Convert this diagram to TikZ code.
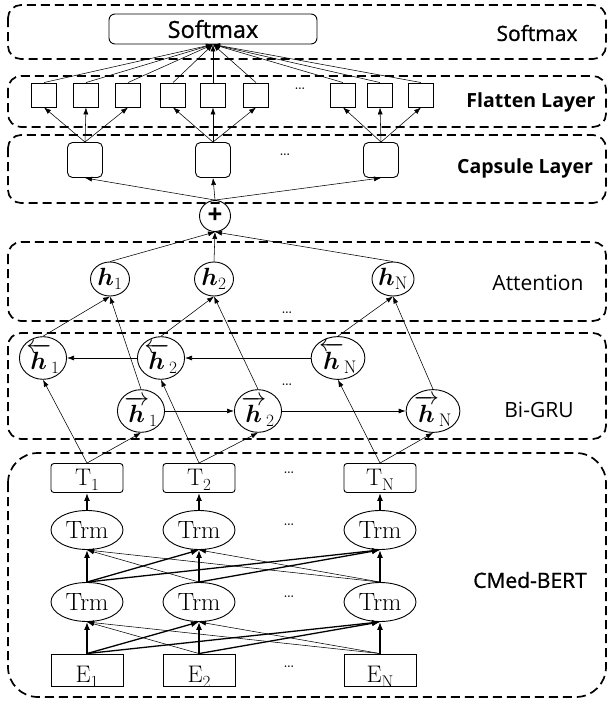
\documentclass[tikz,border=0pt]{standalone}
\usepackage{fontspec}
\usepackage{amsmath}
\newfontfamily\labfont{Open Sans}
\usetikzlibrary{arrows.meta,shapes.geometric}
% serif token with a large lowered index, e.g. T_1
\newcommand\tok[2]{{\addfontfeature{FakeBold=0.6}#1\raisebox{-5pt}{\fontsize{17}{17}\selectfont #2}}}

\begin{document}
\begin{tikzpicture}[x=1pt,y=-1pt,
  layer/.style={draw, line width=1.7pt, dash pattern=on 9pt off 5pt, rounded corners=13pt},
  laytext/.style={font=\labfont\fontsize{21}{21}\selectfont},
  laybold/.style={font=\labfont\bfseries\fontsize{19.5}{19.5}\selectfont},
  laymed/.style={font=\labfont\addfontfeature{FakeBold=1}\fontsize{21}{21}\selectfont},
  smx/.style={draw, line width=0.9pt, rounded corners=6pt, minimum width=208pt, minimum height=30pt, inner sep=0pt, font=\labfont\addfontfeature{FakeBold=1}\fontsize{23.5}{23.5}\selectfont},
  sqbox/.style={draw, line width=0.9pt, minimum width=25pt, minimum height=24pt, inner sep=0pt},
  capbox/.style={draw, line width=0.9pt, rounded corners=5pt, minimum width=35pt, minimum height=35pt, inner sep=0pt},
  hnode/.style={draw, ellipse, line width=0.9pt, minimum width=39pt, minimum height=34pt, inner sep=0pt, font=\fontsize{26}{26}\selectfont},
  tbox/.style={draw, line width=0.9pt, rounded corners=3pt, minimum width=72pt, minimum height=29pt, inner sep=0pt, text height=21pt, text depth=6pt, font=\fontsize{24}{24}\selectfont},
  trm/.style={draw, ellipse, line width=0.9pt, minimum width=72pt, minimum height=39pt, inner sep=0pt, font=\fontsize{25}{25}\selectfont\addfontfeature{FakeBold=0.6}},
  ebox/.style={draw, line width=0.9pt, minimum width=72pt, minimum height=32pt, inner sep=0pt, text height=27pt, text depth=2pt, font=\fontsize{24}{24}\selectfont},
  dotsnode/.style={font=\fontsize{20}{20}\selectfont},
  arr/.style={-{Latex[length=7pt,width=5pt]}, line width=0.55pt},
  boldarr/.style={-{Latex[length=8pt,width=6pt]}, line width=1.3pt}
]
\useasboundingbox (0,0) rectangle (610,704);

% layer frames
\foreach \ytop/\ybot in {5/59, 76/127, 135/203, 242/321, 333/439}
  \draw[layer] (8,\ytop) rectangle (606,\ybot);
\draw[layer, rounded corners=30pt] (8,453) rectangle (606,697);

% layer titles
\node[laymed] (lsoft) at (537,33) {Softmax};
\node[laybold] (lflat) at (531,102) {Flatten Layer};
\node[laybold] (lcaps) at (525,168) {Capsule Layer};
\node[laytext] (latt) at (538,283) {Attention};
\node[laytext] (lgru) at (539,410) {Bi-GRU};
\node[laymed] (lbert) at (530,580) {CMed-BERT};

% softmax output
\node[smx] (smx) at (213,29) {Softmax};

% flatten layer
\foreach \i/\x in {1/44,2/86,3/128,4/173,5/213,6/256,7/343,8/380,9/421}
  \node[sqbox] (sq\i) at (\x,95) {};
\node[dotsnode] (fdots) at (300,89) {\dots};

% capsule layer
\node[capbox] (cap1) at (85,160) {};
\node[capbox] (cap2) at (213,160) {};
\node[capbox] (cap3) at (381,160) {};
\node[dotsnode] (cdots) at (285,155) {\dots};

% merge
\node[draw, circle, line width=0.9pt, minimum size=31pt, inner sep=0pt,
      font=\labfont\bfseries\fontsize{26}{26}\selectfont] (plus) at (215,216) {+};

% attention
\node[hnode] (att1) at (110,279) {$\boldsymbol{h}_{1}$};
\node[hnode] (att2) at (214,279) {$\boldsymbol{h}_{2}$};
\node[hnode] (att3) at (393,279) {$\boldsymbol{h}_{\mathrm{N}}$};
\node[dotsnode] (adots) at (287,313) {\dots};

% Bi-GRU
\node[hnode] (bw1) at (43,358) {$\overleftarrow{\boldsymbol{h}}_{1}$};
\node[hnode] (bw2) at (161,358) {$\overleftarrow{\boldsymbol{h}}_{2}$};
\node[hnode] (bw3) at (338,358) {$\overleftarrow{\boldsymbol{h}}_{\mathrm{N}}$};
\node[hnode] (fw1) at (141,411) {$\overrightarrow{\boldsymbol{h}}_{1}$};
\node[hnode] (fw2) at (258,411) {$\overrightarrow{\boldsymbol{h}}_{2}$};
\node[hnode] (fw3) at (433,411) {$\overrightarrow{\boldsymbol{h}}_{\mathrm{N}}$};
\node[dotsnode] (gdots) at (287,385) {\dots};

% CMed-BERT
\node[tbox] (t1) at (87,478) {\tok{T}{1}};
\node[tbox] (t2) at (199,478) {\tok{T}{2}};
\node[tbox] (t3) at (380,478) {\tok{T}{N}};
\node[trm] (ua1) at (87,530) {Trm};
\node[trm] (ua2) at (199,530) {Trm};
\node[trm] (ua3) at (380,530) {Trm};
\node[trm] (la1) at (87,602) {Trm};
\node[trm] (la2) at (199,602) {Trm};
\node[trm] (la3) at (380,602) {Trm};
\node[ebox] (e1) at (87,670) {\tok{E}{1}};
\node[ebox] (e2) at (199,670) {\tok{E}{2}};
\node[ebox] (e3) at (380,670) {\tok{E}{N}};
\foreach \y/\n in {473/tdots, 525/udots, 597/ldots, 667/edots}
  \node[dotsnode] (\n) at (289,\y) {\dots};

% flatten -> softmax
\foreach \i in {1,...,9}
  \draw[arr] (sq\i.north) -- (smx.south);

% capsules -> flatten
\foreach \c/\a/\b/\d in {1/1/2/3, 2/4/5/6, 3/7/8/9} {
  \draw[arr] (cap\c.north) -- (sq\a.south);
  \draw[arr] (cap\c.north) -- (sq\b.south);
  \draw[arr] (cap\c.north) -- (sq\d.south);
}

% merge -> capsules
\foreach \c in {1,2,3}
  \draw[arr] (plus.north) -- (cap\c.south);

% attention -> merge
\foreach \i in {1,2,3}
  \draw[arr] (att\i.north) -- (plus.south);

% Bi-GRU -> attention
\foreach \i in {1,2,3} {
  \draw[arr] (bw\i.north) -- (att\i.south);
  \draw[arr] (fw\i.north) -- (att\i.south);
}

% recurrent links
\draw[arr, line width=0.7pt] (bw3.west) -- (bw2.east);
\draw[arr, line width=0.7pt] (bw2.west) -- (bw1.east);
\draw[arr, line width=0.7pt] (fw1.east) -- (fw2.west);
\draw[arr, line width=0.7pt] (fw2.east) -- (fw3.west);

% BERT outputs -> Bi-GRU
\foreach \i in {1,2,3} {
  \draw[arr] (t\i.north) -- (bw\i.south);
  \draw[arr] (t\i.north) -- (fw\i.south);
}

% top transformer -> outputs
\foreach \i in {1,2,3}
  \draw[boldarr] (ua\i.north) -- (t\i.south);

% transformer layers: rightward links bold, leftward links thin
\foreach \i in {1,2,3} {
  \foreach \j in {1,2,3} {
    \ifnum\j<\i
      \draw[arr] (la\i.north) -- (ua\j.south);
      \draw[arr] (e\i.north) -- (la\j.south);
    \else
      \draw[boldarr] (la\i.north) -- (ua\j.south);
      \draw[boldarr] (e\i.north) -- (la\j.south);
    \fi
  }
}
\end{tikzpicture}
\end{document}
